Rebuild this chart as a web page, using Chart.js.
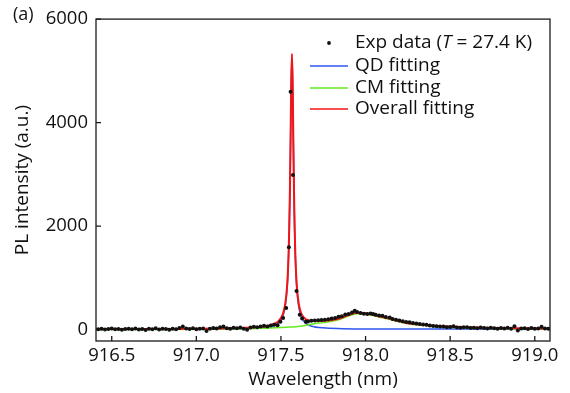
<!DOCTYPE html>
<html>
<head>
<meta charset="utf-8">
<script src="https://cdn.jsdelivr.net/npm/chart.js@4"></script>
<style>
html,body{margin:0;padding:0;background:#fff;}
#c{display:block;}
</style>
</head>
<body>
<canvas id="c" width="570" height="393"></canvas>
<script>
// ---- data ----
const xTicks = [916.5, 917.0, 917.5, 918.0, 918.5, 919.0];
const yTicks = [0, 2000, 4000, 6000];

const expX = [916.42,916.44,916.46,916.48,916.50,916.52,916.54,916.56,916.58,916.60,
916.62,916.64,916.66,916.68,916.70,916.72,916.74,916.76,916.78,916.80,
916.82,916.84,916.86,916.88,916.90,916.92,916.94,916.96,916.98,917.00,
917.02,917.04,917.06,917.08,917.10,917.12,917.14,917.16,917.18,917.20,
917.22,917.24,917.26,917.28,917.30,917.32,917.34,917.36,917.38,917.40,
917.42,917.44,917.46,917.48,917.497,917.513,917.531,917.547,917.557,917.571,
917.592,917.611,917.625,917.647,917.66,917.68,917.70,917.72,917.74,917.76,
917.78,917.80,917.82,917.84,917.86,917.88,917.90,917.92,917.936,917.95,
917.97,917.99,918.01,918.03,918.045,918.06,918.08,918.10,918.12,918.143,
918.16,918.18,918.20,918.22,918.24,918.26,918.28,918.30,918.32,918.34,
918.36,918.38,918.40,918.42,918.44,918.46,918.48,918.50,918.52,918.54,
918.56,918.58,918.60,918.62,918.64,918.66,918.68,918.70,918.72,918.74,
918.76,918.78,918.80,918.82,918.84,918.86,918.88,918.90,918.92,918.94,
918.96,918.98,919.00,919.02,919.04,919.06,919.08];
const expY = [8,15,2,12,20,5,14,-5,10,18,
6,22,3,12,-8,15,9,25,4,16,
10,-2,18,8,30,62,20,12,28,5,
18,22,-25,15,30,20,45,62,28,15,
35,25,42,18,-5,40,55,45,62,76,
60,78,95,82,150,223,420,1591,4598,2986,
745,286,216,153,158,172,175,180,185,190,
200,215,225,250,260,290,300,330,363,340,
320,305,300,310,300,285,275,268,245,235,
205,190,175,160,145,140,128,118,108,100,
95,80,72,65,58,60,45,50,63,42,
35,48,44,30,38,25,40,32,20,35,
28,15,30,22,35,18,63,-19,20,25,
10,30,18,22,57,20,15];

const qdX = [916.40,916.80,917.065,917.265,917.365,917.405,917.435,917.465,917.485,917.505,
917.515,917.525,917.535,917.540,917.545,917.549,917.553,917.557,917.561,917.565,
917.569,917.573,917.577,917.581,917.585,917.590,917.595,917.605,917.615,917.625,
917.645,917.665,917.695,917.725,917.765,917.865,918.065,918.565,919.10];
const qdY = [10,11,13,18,29,40,55,85,126,213,
297,445,737,997,1405,1907,2645,3660,4753,5280,
4753,3660,2645,1907,1405,997,737,445,297,213,
126,85,55,40,29,18,13,11,10];

const cmX = [916.40,916.80,917.00,917.20,917.30,917.40,917.50,917.55,917.60,917.65,
917.70,917.75,917.80,917.85,917.90,917.95,918.00,918.05,918.10,918.15,
918.20,918.25,918.30,918.35,918.40,918.50,918.60,918.70,918.80,918.90,919.10];
const cmY = [2,3,5,10,15,25,40,50,60,85,
115,135,160,200,265,308,300,268,228,190,
150,112,92,78,66,47,33,24,18,14,9];

const allX = [916.40,916.80,917.00,917.20,917.30,917.365,917.405,917.435,917.465,917.485,
917.505,917.515,917.525,917.535,917.540,917.545,917.549,917.553,917.557,917.561,
917.565,917.569,917.573,917.577,917.581,917.585,917.590,917.595,917.605,917.615,
917.625,917.645,917.665,917.695,917.725,917.765,917.80,917.85,917.90,917.95,
918.00,918.05,918.10,918.15,918.20,918.25,918.30,918.35,918.40,918.50,
918.60,918.70,918.80,918.90,919.10];
const allY = [12,14,17,25,36,49,65,85,120,164,
254,340,490,784,1044,1453,1956,2694,3710,4803,
5330,4803,3711,2696,1959,1458,1051,793,505,359,
279,206,177,168,165,174,185,220,282,324,
315,282,241,203,162,124,104,89,77,58,
44,35,29,25,20];

const legendLabels = ['QD fitting', 'CM fitting', 'Overall fitting'];

// ---- build chart ----
const pairs = (xs, ys) => xs.map((x, i) => ({x: x, y: ys[i]}));
const FONT = '"Open Sans", "DejaVu Sans", sans-serif';
const BLUE = '#2f55f0', GREEN = '#66e81e', RED = '#f41414';

const framePlugin = {
  id: 'frame',
  afterDraw(chart) {
    const {ctx, chartArea: a, scales} = chart;
    ctx.save();
    ctx.strokeStyle = '#1a1a1a';
    ctx.lineWidth = 1.3;
    ctx.strokeRect(a.left, a.top, a.right - a.left, a.bottom - a.top);
    ctx.beginPath();
    xTicks.forEach(v => {
      const px = scales.x.getPixelForValue(v);
      ctx.moveTo(px, a.bottom); ctx.lineTo(px, a.bottom - 5);
    });
    yTicks.forEach(v => {
      const py = scales.y.getPixelForValue(v);
      ctx.moveTo(a.left, py); ctx.lineTo(a.left + 5, py);
    });
    ctx.stroke();

    // legend
    const tx = 355, rows = [43, 66, 88, 109];
    const LF = '19px ' + FONT;
    ctx.font = LF;
    ctx.textBaseline = 'middle';
    ctx.fillStyle = '#111';
    ctx.beginPath(); ctx.arc(329, rows[0], 1.9, 0, Math.PI * 2); ctx.fill();
    let x = tx;
    const seg = (t, italic) => {
      ctx.font = (italic ? 'italic ' : '') + LF;
      ctx.fillText(t, x, rows[0]);
      x += ctx.measureText(t).width;
    };
    seg('Exp data (', false); seg('T', true); seg(' = 27.4 K)', false);
    ctx.font = LF;
    [BLUE, GREEN, RED].forEach((c, i) => {
      ctx.strokeStyle = c; ctx.lineWidth = 1.5;
      ctx.beginPath(); ctx.moveTo(310, rows[i + 1]); ctx.lineTo(348, rows[i + 1]); ctx.stroke();
      ctx.fillText(legendLabels[i], tx, rows[i + 1]);
    });
    // panel label
    ctx.font = '18px ' + FONT;
    ctx.textBaseline = 'middle';
    ctx.fillText('(a)', 13, 15);
    ctx.restore();
  }
};

new Chart(document.getElementById('c'), {
  type: 'scatter',
  data: {
    datasets: [
      {label: 'Exp data', data: pairs(expX, expY), pointRadius: 2, pointBackgroundColor: '#111', pointBorderWidth: 0, showLine: false, order: 0},
      {label: 'Overall fitting', data: pairs(allX, allY), showLine: true, borderColor: RED, borderWidth: 2, pointRadius: 0, cubicInterpolationMode: 'monotone', order: 1},
      {label: 'CM fitting', data: pairs(cmX, cmY), showLine: true, borderColor: GREEN, borderWidth: 1.5, pointRadius: 0, cubicInterpolationMode: 'monotone', order: 2},
      {label: 'QD fitting', data: pairs(qdX, qdY), showLine: true, borderColor: BLUE, borderWidth: 1.5, pointRadius: 0, cubicInterpolationMode: 'monotone', order: 3}
    ]
  },
  options: {
    responsive: false,
    animation: false,
    devicePixelRatio: 1,
    layout: {padding: {left: 0, top: 15, right: 20, bottom: 0}},
    plugins: {legend: {display: false}, tooltip: {enabled: false}},
    scales: {
      x: {
        type: 'linear', min: 916.407, max: 919.09,
        afterBuildTicks: s => { s.ticks = xTicks.map(v => ({value: v})); },
        afterFit: s => { s.height = 52; },
        grid: {display: false, drawTicks: false},
        border: {display: false},
        ticks: {padding: 4, color: '#111', font: {family: FONT, size: 18.5}, callback: v => v.toFixed(1)},
        title: {display: true, text: 'Wavelength (nm)', color: '#111', font: {family: FONT, size: 19}, padding: {top: 2, bottom: 2}}
      },
      y: {
        type: 'linear', min: -220, max: 6000,
        afterBuildTicks: s => { s.ticks = yTicks.map(v => ({value: v})); },
        afterFit: s => { s.width = 96; },
        grid: {display: false, drawTicks: false},
        border: {display: false},
        ticks: {padding: 8, color: '#111', font: {family: FONT, size: 18.5}, callback: v => String(v)},
        title: {display: true, text: 'PL intensity (a.u.)', color: '#111', font: {family: FONT, size: 19}, padding: {top: 11, bottom: 11}}
      }
    }
  },
  plugins: [framePlugin]
});
</script>
</body>
</html>
